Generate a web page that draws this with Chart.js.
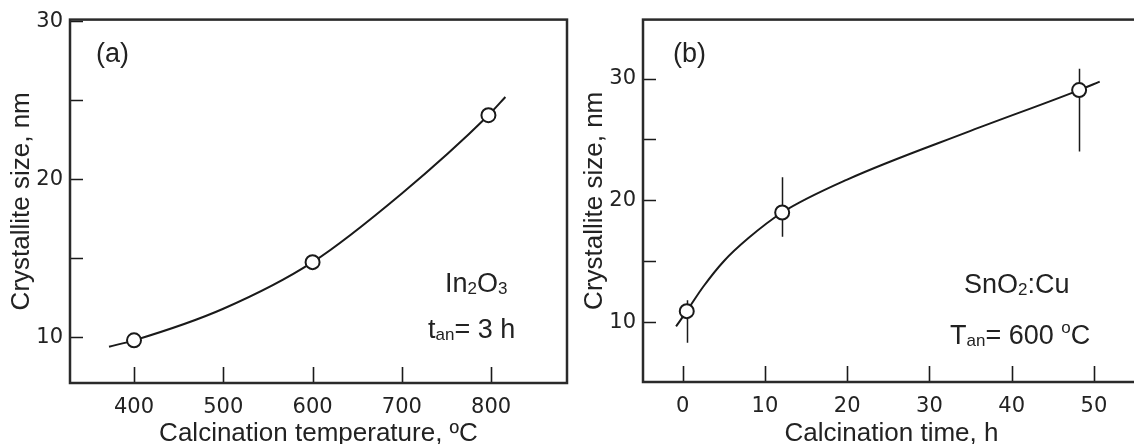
<!DOCTYPE html>
<html>
<head>
<meta charset="utf-8">
<title>Crystallite size</title>
<script src="https://cdn.jsdelivr.net/npm/chart.js@4/dist/chart.umd.min.js"></script>
<style>
	html, body { margin: 0; padding: 0; background: #fff; overflow: hidden; width: 1134px; height: 444px; }
	#chartA { position: absolute; left: 0; top: 0; }
	#chartB { position: absolute; left: 578px; top: 0; }
</style>
</head>
<body>
<canvas id="chartA" width="580" height="444"></canvas>
<canvas id="chartB" width="572" height="444"></canvas>
<script>
// (a) In2O3, crystallite size vs calcination temperature
var tempPoints = [400, 600, 797];
var sizePointsA = [9.8, 14.75, 24.05];
var tempCurve = [372, 400, 500, 600, 700, 797, 816];
var sizeCurveA = [9.4, 9.8, 11.8, 14.75, 19.1, 24.05, 25.2];
var tempTicks = [400, 500, 600, 700, 800];
var sizeTicksA = [10, 15, 20, 25, 30];

// (b) SnO2:Cu, crystallite size vs calcination time
var timePoints = [0.5, 12.1, 48.2];
var sizePointsB = [10.9, 19.0, 29.05];
var errLowB = [8.3, 17.0, 24.0];
var errHighB = [11.8, 21.9, 30.8];
var timeCurve = [-0.8, 0.5, 2.5, 5, 8, 12.1, 20, 35, 48.2, 50.7];
var sizeCurveB = [9.65, 10.9, 12.9, 15.0, 16.9, 19.0, 21.7, 25.7, 29.05, 29.75];
var timeTicks = [0, 10, 20, 30, 40, 50];
var sizeTicksB = [10, 15, 20, 25, 30];

var INK = '#1a1a1a';
var TEXT = '#222';
var TICK_FONT = { family: 'DejaVu Sans', size: 21 };
var TITLE_FONT = { family: 'Liberation Sans', size: 26, lineHeight: 0.75 };

function pairs(xs, ys) {
	return xs.map(function(x, i) { return { x: x, y: ys[i] }; });
}

// frame, inward ticks and error bars
var framePlugin = {
	id: 'frame',
	beforeDatasetsDraw: function(chart, args, opts) {
		var ctx = chart.ctx, a = chart.chartArea;
		var sx = chart.scales.x, sy = chart.scales.y;
		ctx.save();
		ctx.strokeStyle = INK;
		ctx.lineWidth = 1.6;
		ctx.beginPath();
		sx.ticks.forEach(function(t) {
			var px = Math.round(sx.getPixelForValue(t.value)) + 0.5;
			ctx.moveTo(px, a.bottom);
			ctx.lineTo(px, a.bottom - 16);
		});
		sy.ticks.forEach(function(t) {
			var py = Math.round(sy.getPixelForValue(t.value)) + 0.5;
			ctx.moveTo(a.left, py);
			ctx.lineTo(a.left + 13, py);
		});
		ctx.stroke();
		var lo = opts.low || [], hi = opts.high || [], xs = opts.xs || [];
		ctx.lineWidth = 1.5;
		ctx.beginPath();
		xs.forEach(function(v, i) {
			var px = Math.round(sx.getPixelForValue(v)) + 0.5;
			ctx.moveTo(px, sy.getPixelForValue(lo[i]));
			ctx.lineTo(px, sy.getPixelForValue(hi[i]));
		});
		ctx.stroke();
		ctx.restore();
	},
	afterDatasetsDraw: function(chart) {
		var ctx = chart.ctx, a = chart.chartArea;
		ctx.save();
		ctx.strokeStyle = '#2a2a2a';
		ctx.lineWidth = 2.5;
		ctx.strokeRect(a.left, a.top, a.right - a.left, a.bottom - a.top);
		ctx.restore();
	}
};

// text with sub/superscripts inside the plot
var notesPlugin = {
	id: 'notes',
	afterDraw: function(chart, args, opts) {
		var ctx = chart.ctx, a = chart.chartArea;
		ctx.save();
		ctx.fillStyle = TEXT;
		ctx.textBaseline = 'alphabetic';
		(opts.items || []).forEach(function(item) {
			var x = a.left + item.dx;
			var y = a.top + item.dy;
			item.parts.forEach(function(p) {
				var size = p[1] ? 17 : 27;
				var shift = p[1] === 'sub' ? 2 : (p[1] === 'sup' ? -11 : 0);
				ctx.font = size + 'px "Liberation Sans", Arial, sans-serif';
				ctx.fillText(p[0], x, y + shift);
				x += ctx.measureText(p[0]).width;
			});
		});
		ctx.restore();
	}
};

function makeOptions(cfg) {
	return {
		responsive: false,
		animation: false,
		devicePixelRatio: 1,
		layout: { padding: { top: 19, right: cfg.padRight, left: 0, bottom: 0 } },
		plugins: {
			legend: { display: false },
			tooltip: { enabled: false },
			frame: cfg.err || {},
			notes: { items: cfg.notes }
		},
		scales: {
			x: {
				type: 'linear',
				min: cfg.xMin,
				max: cfg.xMax,
				afterBuildTicks: function(s) { s.ticks = cfg.xTicks.map(function(v) { return { value: v }; }); },
				afterFit: function(s) { s.height = cfg.xHeight; },
				grid: { display: false, drawTicks: false },
				border: { display: false },
				ticks: { font: TICK_FONT, color: TEXT, padding: 12, maxRotation: 0 },
				title: { display: true, text: cfg.xTitle, font: TITLE_FONT, color: TEXT, padding: 0 }
			},
			y: {
				type: 'linear',
				min: cfg.yMin,
				max: cfg.yMax,
				afterBuildTicks: function(s) { s.ticks = cfg.yTicks.map(function(v) { return { value: v }; }); },
				afterFit: function(s) { s.width = cfg.yWidth; },
				grid: { display: false, drawTicks: false },
				border: { display: false },
				ticks: {
					font: TICK_FONT,
					color: TEXT,
					padding: 7,
					callback: function(v) { return v % 10 === 0 ? v : ''; }
				},
				title: { display: true, text: 'Crystallite size, nm', font: TITLE_FONT, color: TEXT, padding: { top: cfg.yTitlePad, bottom: 0 } }
			}
		}
	};
}

function makeData(px, py, cx, cy) {
	return {
		datasets: [{
			data: pairs(px, py),
			showLine: false,
			pointRadius: 7,
			pointBorderWidth: 2,
			pointBorderColor: INK,
			pointBackgroundColor: '#fff'
		}, {
			data: pairs(cx, cy),
			showLine: true,
			borderColor: INK,
			borderWidth: 2,
			pointRadius: 0,
			cubicInterpolationMode: 'monotone',
			fill: false
		}]
	};
}

new Chart(document.getElementById('chartA'), {
	type: 'scatter',
	data: makeData(tempPoints, sizePointsA, tempCurve, sizeCurveA),
	options: makeOptions({
		padRight: 13,
		xMin: 328.3, xMax: 885, xTicks: tempTicks, xHeight: 61,
		yMin: 7.1, yMax: 30.1, yTicks: sizeTicksA, yWidth: 70, yTitlePad: 12,
		xTitle: 'Calcination temperature, ºC',
		notes: [
			{ dx: 26, dy: 42, parts: [['(a)']] },
			{ dx: 375, dy: 272, parts: [['In'], ['2', 'sub'], ['O'], ['3', 'sub']] },
			{ dx: 358, dy: 318, parts: [['t'], ['an', 'sub'], ['= 3 h']] }
		]
	}),
	plugins: [framePlugin, notesPlugin]
});

new Chart(document.getElementById('chartB'), {
	type: 'scatter',
	data: makeData(timePoints, sizePointsB, timeCurve, sizeCurveB),
	options: makeOptions({
		padRight: 10,
		xMin: -4.82, xMax: 55.6, xTicks: timeTicks, xHeight: 62,
		yMin: 5.08, yMax: 34.84, yTicks: sizeTicksB, yWidth: 65, yTitlePad: 7,
		xTitle: 'Calcination time, h',
		err: { xs: timePoints, low: errLowB, high: errHighB },
		notes: [
			{ dx: 30, dy: 42, parts: [['(b)']] },
			{ dx: 321, dy: 273, parts: [['SnO'], ['2', 'sub'], [':Cu']] },
			{ dx: 307, dy: 324, parts: [['T'], ['an', 'sub'], ['= 600 '], ['o', 'sup'], ['C']] }
		]
	}),
	plugins: [framePlugin, notesPlugin]
});
</script>
</body>
</html>
